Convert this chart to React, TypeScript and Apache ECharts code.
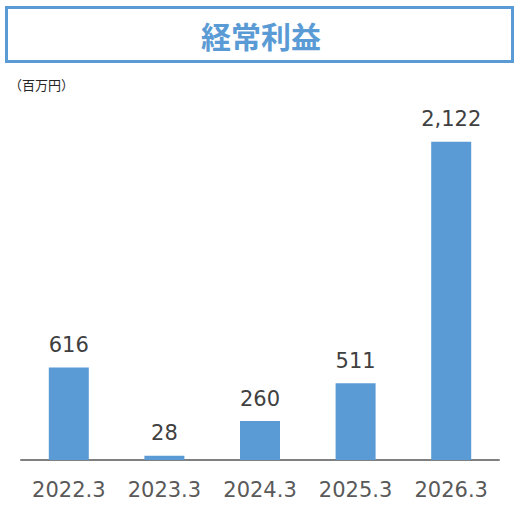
import React, { useEffect, useRef } from 'react';
import * as echarts from 'echarts';

// 経常利益（百万円）
const categories = ['2022.3', '2023.3', '2024.3', '2025.3', '2026.3'];
const values = [616, 28, 260, 511, 2122];

const titleText = '経常利益';
const unitText = '（百万円）';

const App: React.FC = () => {
  const chartRef = useRef<HTMLDivElement | null>(null);

  useEffect(() => {
    if (!chartRef.current) return;
    const chart = echarts.init(chartRef.current, null, { renderer: 'svg' });

    chart.setOption({
      animation: false,
      backgroundColor: '#ffffff',
      grid: { left: 21, right: 28, top: 100, bottom: 53 },
      graphic: [
        {
          type: 'rect',
          shape: { x: 6.5, y: 7.5, width: 506, height: 54 },
          style: { fill: '#ffffff', stroke: '#5B9BD5', lineWidth: 3 },
        },
        {
          type: 'text',
          x: 261,
          y: 35,
          style: {
            text: titleText,
            fill: '#5B9BD5',
            font: 'bold 30px "Noto Sans CJK JP", sans-serif',
            align: 'center',
            verticalAlign: 'middle',
          },
        },
        {
          type: 'text',
          x: 9,
          y: 84,
          style: {
            text: unitText,
            fill: '#262626',
            font: '13px "Noto Sans CJK JP", sans-serif',
            verticalAlign: 'middle',
          },
        },
      ],
      xAxis: {
        type: 'category',
        data: categories,
        axisLine: { lineStyle: { color: '#808080', width: 2 } },
        axisTick: { show: false },
        axisLabel: {
          color: '#595959',
          fontSize: 21,
          fontFamily: '"DejaVu Sans", sans-serif',
          margin: 19,
        },
      },
      yAxis: {
        type: 'value',
        min: 0,
        max: 2400,
        show: false,
        splitLine: { show: false },
      },
      series: [
        {
          type: 'bar',
          data: values,
          barWidth: 40,
          itemStyle: { color: '#5B9BD5' },
          label: {
            show: true,
            position: 'top',
            distance: 12,
            color: '#404040',
            fontSize: 21,
            fontFamily: '"DejaVu Sans", sans-serif',
            formatter: (p: any) => Number(p.value).toLocaleString('en-US'),
          },
        },
      ],
    });

    return () => {
      chart.dispose();
    };
  }, []);

  return (
    <div
      ref={chartRef}
      style={{ position: 'absolute', left: 0, top: 0, width: '527px', height: '513px' }}
    ></div>
  );
};

export default App;
